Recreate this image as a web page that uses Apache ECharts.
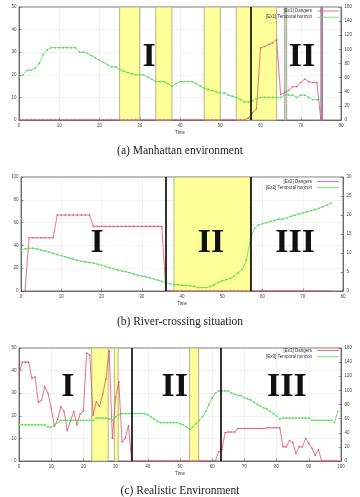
<!DOCTYPE html>
<html>
  <head>
    <meta charset="utf-8" />
  </head>
  <body style="margin: 0">
    <div id="container" style="width: 360px; height: 497px"></div>
    <script src="https://cdn.jsdelivr.net/npm/echarts@6/dist/echarts.min.js"></script>
    <script type="text/javascript">
      // ---- data (one value per time step, starting at Time = 0) ----
      var ex1Horizon = [19, 20, 22, 22, 23, 25, 29, 31, 32, 32, 32, 32, 32, 32, 32,
        30, 30, 29.5, 28.5, 27.5, 26.5, 25.5, 24.5, 23.5, 23.5, 22.5, 21.5, 21, 20.5, 20, 20, 20,
        19, 18, 17, 17, 17, 16, 15, 16, 17, 17, 17, 17,
        16, 15, 14, 13.5, 13, 12.5, 12, 12, 11, 10.5, 10, 9, 8, 8,
        8.5, 9.5, 10, 10, 10, 10, 10, 10, 11, 11, 11, 10, 11, 11, 10, 9, 9, 9];
      var ex1Dangers = [0, 0, 0, 0, 0, 0, 0, 0, 0, 0, 0, 0, 0, 0, 0, 0, 0, 0, 0, 0,
        0, 0, 0, 0, 0, 0, 0, 0, 0, 0, 0, 0, 0, 0, 0, 0, 0, 0, 0, 0,
        0, 0, 0, 0, 0, 0, 0, 0, 0, 0, 0, 0, 0, 0, 0, 0, 0,
        3, 10, 16, 102, 104, 107, 109, 114, 36, 39, 42, 47, 47, 53, 58, 54, 53, 53, 0];

      var ex2Horizon = [36, 37, 37.5, 37.5, 37, 36, 35, 34, 33, 32,
        31, 30, 29, 28, 27, 26, 25.5, 25, 24.5, 23.5,
        22.5, 21.5, 20.5, 19.5, 18.5, 17.5, 17, 16, 15, 14,
        13, 12.5, 11.5, 10.5, 9.5, 8.5, 7.5, 6.5, 5.5, 5.5,
        5, 5, 4.5, 4, 3, 3, 3, 4, 5.5, 7.5,
        9, 10, 11, 13, 16, 19, 27, 45, 55, 58,
        59, 60, 61, 62, 63, 63, 64, 65.5, 66.5, 67.5,
        68.5, 69.5, 70.5, 71.5, 72.5, 74, 75.5, 77];
      var ex2Dangers = [null, 0, 14, 14, 14, 14, 14, 14, 14,
        20, 20, 20, 20, 20, 20, 20, 20, 20,
        17, 17, 17, 17, 17, 17, 17, 17, 17, 17, 17, 17, 17, 17, 17, 17, 17, 17,
        0, 0, 0, 0, 0, 0, 0, 0, 0, 0, 0, 0, 0, 0, 0, 0, 0, 0, 0, 0, 0,
        0, 0, 0, 0, 0, 0, 0, 0, 0, 0, 0, 0, 0, 0, 0, 0, 0, 0, 0, 0, 0];

      var ex3Horizon = [16, 16, 16, 16, 16, 16, 16, 16, 16, 15,
        15, 16, 17, 18, 18, 18, 18, 18, 18, 18,
        18, 18, 18, 18, 19, 19, 19, 19, 18.5, 18,
        19.5, 20.5, 21, 21, 21, 21, 21, 21, 21, 21,
        20.5, 19.5, 18.5, 17.5, 17, 17, 17, 17, 17, 17,
        16.5, 16, 15, 14, 15, 16.5, 18, 19.5, 22, 25,
        28, 30, 31, 31, 31, 31, 30, 29.5, 29, 29,
        28, 27.5, 27, 26, 25, 24.5, 23.5, 23, 22, 21,
        20, 18.5, 19, 19, 19, 19, 19, 19, 19, 19,
        19, 18, 18, 18, 18, 18, 18, 18, 17, 22];
      var ex3Dangers = [123, 140, 140, 140, 117, 119, 83, 86, 105, 96,
        75, 49, 59, 77, 70, 43, 57, 70, 51, 67,
        71, 153, 150, 65, 84, 77, 95, 116, 156, 32,
        90, 112, 27, 32, 50, 0, 0, 0, 0, 0,
        0, 0, 0, 0, 0, 0, 0, 0, 0, 0,
        0, 0, 0, 0, 0, 0, 0, 0, 0, 0,
        0, 0, 13, 16, 40, 41, 41, 41, 46, 46,
        46, 46, 46, 46, 46, 46, 46, 47, 47, 47,
        47, 47, 20, 20, 29, 26, 11, 20, 20, 32,
        25, 18, 8, 16, 0, 0, 0, 0, 0, 0];

      // highlighted time intervals and phase separators
      var ex1Bands = [[25, 30], [34, 38], [46, 50], [54, 64]];
      var ex1GreyBand = [66, 66.5];
      var ex1PurpleBand = [75, 75.4];
      var ex1Splits = [57.5];
      var ex2Bands = [[38, 57]];
      var ex2Splits = [36, 57];
      var ex3Bands = [[22.6, 27.7], [29.6, 30.8], [53, 55.8]];
      var ex3Splits = [35, 62.5];

      var RED = '#e0506a';
      var GREEN = '#55dd55';
      var FS = 4.5;

      function pairs(arr) {
        return arr.map(function (v, i) { return [i, v]; });
      }

      function bandData(list, style) {
        return list.map(function (b) {
          return [{ xAxis: b[0], itemStyle: style }, { xAxis: b[1] }];
        });
      }

      var yellow = { color: '#ffff99', borderColor: '#b4b48c', borderWidth: 1 };

      function xAx(g, max) {
        return {
          type: 'value', gridIndex: g, min: 0, max: max, interval: 10,
          name: 'Time', nameLocation: 'middle', nameGap: 10,
          nameTextStyle: { fontSize: FS, color: '#333' },
          axisLine: { show: true, lineStyle: { color: '#555', width: 0.8 } },
          axisTick: { inside: true, length: 2.5, lineStyle: { color: '#555', width: 0.6 } },
          axisLabel: { fontSize: FS, color: '#444', margin: 3 },
          splitLine: { show: true, lineStyle: { color: '#ccc', width: 0.5, type: 'dotted' } }
        };
      }
      function yLeft(g, max, step) {
        return {
          type: 'value', gridIndex: g, min: 0, max: max, interval: step, position: 'left',
          name: 'Temporal Horizon', nameLocation: 'middle', nameGap: 12,
          nameTextStyle: { fontSize: FS, color: '#333' },
          axisLine: { show: true, lineStyle: { color: '#555', width: 0.8 } },
          axisTick: { show: true, inside: true, length: 2.5, lineStyle: { color: '#555', width: 0.6 } },
          axisLabel: { fontSize: FS, color: '#444', margin: 2.5 },
          splitLine: { show: true, lineStyle: { color: '#ccc', width: 0.5, type: 'dotted' } }
        };
      }
      function yRight(g, max, step) {
        return {
          type: 'value', gridIndex: g, min: 0, max: max, interval: step, position: 'right',
          name: 'Nb of Dangers', nameLocation: 'middle', nameGap: 15,
          nameTextStyle: { fontSize: FS, color: '#333' },
          axisLine: { show: true, lineStyle: { color: '#555', width: 0.8 } },
          axisTick: { show: true, inside: true, length: 2.5, lineStyle: { color: '#555', width: 0.6 } },
          axisLabel: { fontSize: FS, color: '#444', margin: 3.5 },
          splitLine: { show: false }
        };
      }

      function romans(list) {
        return {
          symbol: 'rect', symbolSize: 1, silent: true,
          itemStyle: { color: 'rgba(0,0,0,0)' },
          label: {
            show: true, position: 'inside', formatter: '{b}',
            fontFamily: 'Liberation Serif', fontWeight: 'bold', fontSize: 34, color: '#111'
          },
          data: list.map(function (r) { return { name: r[0], coord: [r[1], r[2]] }; })
        };
      }
      function splits(list) {
        return {
          symbol: 'none', silent: true, label: { show: false },
          lineStyle: { color: '#000', width: 1.6, type: 'solid' },
          data: list.map(function (x) { return { xAxis: x }; })
        };
      }

      function dangerSeries(name, g, data, areas, lines) {
        return {
          name: name, type: 'line', xAxisIndex: g, yAxisIndex: g * 2 + 1,
          data: pairs(data), color: RED, symbol: 'circle', symbolSize: 1.6,
          showAllSymbol: true, lineStyle: { width: 0.8 }, z: 2,
          markArea: { silent: true, data: areas },
          markLine: splits(lines)
        };
      }
      function horizonSeries(name, g, data, labels) {
        return {
          name: name, type: 'line', xAxisIndex: g, yAxisIndex: g * 2,
          data: pairs(data), color: GREEN, symbol: 'circle', symbolSize: 1.8,
          showAllSymbol: true, lineStyle: { width: 0.8 }, z: 3,
          markPoint: romans(labels)
        };
      }

      function legendFor(names, top) {
        return {
          data: names, orient: 'vertical', right: 21, top: top, align: 'right',
          icon: 'rect', itemWidth: 22, itemHeight: 0.8, itemGap: 1.2, padding: 0,
          textStyle: { fontSize: FS, color: '#333' }
        };
      }

      var captionStyle = { fontFamily: 'Liberation Serif', fontSize: 11.5, fontWeight: 'normal', color: '#222' };
      var gridBase = { show: true, borderColor: '#555', borderWidth: 0.8, outerBoundsMode: 'none', containLabel: false };

      var option = {
        animation: false,
        backgroundColor: '#fff',
        title: [
          { text: '(a) Manhattan environment', left: 'center', top: 145, padding: 0, textStyle: captionStyle },
          { text: '(b) River-crossing situation', left: 'center', top: 315.5, padding: 0, textStyle: captionStyle },
          { text: '(c) Realistic Environment', left: 'center', top: 484.5, padding: 0, textStyle: captionStyle }
        ],
        grid: [
          Object.assign({ left: 19, top: 7, width: 322, height: 113 }, gridBase),
          Object.assign({ left: 21, top: 177, width: 322, height: 114 }, gridBase),
          Object.assign({ left: 19, top: 348, width: 322, height: 113 }, gridBase)
        ],
        legend: [
          legendFor(['[Ex1] Dangers', '[Ex1] Temporal horizon'], 8.5),
          legendFor(['[Ex2] Dangers', '[Ex2] Temporal horizon'], 179),
          legendFor(['[Ex3] Dangers', '[Ex3] Temporal horizon'], 348)
        ],
        xAxis: [xAx(0, 80), xAx(1, 80), xAx(2, 100)],
        yAxis: [
          yLeft(0, 50, 10), yRight(0, 160, 20),
          yLeft(1, 100, 20), yRight(1, 30, 5),
          yLeft(2, 50, 10), yRight(2, 160, 20)
        ],
        series: [
          dangerSeries('[Ex1] Dangers', 0, ex1Dangers,
            bandData(ex1Bands, yellow)
              .concat(bandData([ex1GreyBand], { color: '#d8d8c8', borderColor: '#a8a898', borderWidth: 1 }))
              .concat(bandData([ex1PurpleBand], { color: '#c8a0c8', borderColor: '#9a7a9a', borderWidth: 1 })),
            ex1Splits),
          horizonSeries('[Ex1] Temporal horizon', 0, ex1Horizon, [['I', 32.3, 28], ['II', 70.3, 28]]),
          dangerSeries('[Ex2] Dangers', 1, ex2Dangers, bandData(ex2Bands, yellow), ex2Splits),
          horizonSeries('[Ex2] Temporal horizon', 1, ex2Horizon, [['I', 18.9, 42], ['II', 47.2, 42], ['III', 68.1, 42]]),
          dangerSeries('[Ex3] Dangers', 2, ex3Dangers, bandData(ex3Bands, yellow), ex3Splits),
          horizonSeries('[Ex3] Temporal horizon', 2, ex3Horizon, [['I', 15.2, 32.6], ['II', 48.4, 32.6], ['III', 83.2, 32.6]])
        ]
      };

      var chart = echarts.init(document.getElementById('container'));
      chart.setOption(option);
    </script>
  </body>
</html>
